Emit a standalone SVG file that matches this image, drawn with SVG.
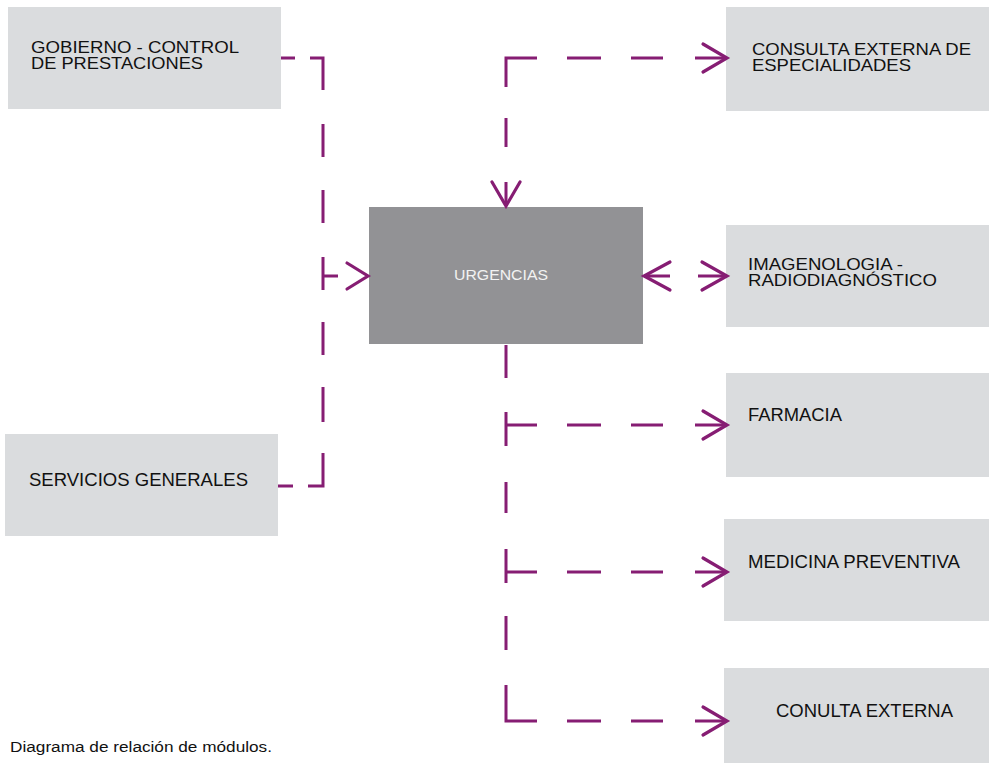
<svg xmlns="http://www.w3.org/2000/svg" width="989" height="763" viewBox="0 0 989 763">
<style>
.box{fill:#dadcde}
.core{fill:#929295}
.lbl{font-family:"Liberation Sans",Arial,sans-serif;font-size:18px;fill:#111}
.lbl2{font-family:"Liberation Sans",Arial,sans-serif;font-size:17px;fill:#111}
.core-lbl{font-family:"Liberation Sans",Arial,sans-serif;font-size:15.5px;fill:#f2f2f2}
.cap{font-family:"Liberation Sans",Arial,sans-serif;font-size:15.5px;fill:#111}
.ln{fill:none;stroke:#861d73;stroke-width:3;stroke-linecap:butt;stroke-linejoin:miter}
.hd{fill:none;stroke:#861d73;stroke-width:3.2;stroke-linecap:round;stroke-linejoin:miter}
</style>
<rect width="989" height="763" fill="#fff"/>

<g id="gobierno">
<rect class="box" x="8" y="7" width="273" height="102"/>
<text class="lbl2" x="31" y="53" textLength="208" lengthAdjust="spacingAndGlyphs">GOBIERNO - CONTROL</text>
<text class="lbl2" x="31" y="68.5" textLength="172" lengthAdjust="spacingAndGlyphs">DE PRESTACIONES</text>
</g>
<g id="servicios">
<rect class="box" x="5" y="434" width="273" height="102"/>
<text class="lbl" x="29" y="486" textLength="219" lengthAdjust="spacingAndGlyphs">SERVICIOS GENERALES</text>
</g>
<g id="urgencias">
<rect class="core" x="369" y="207" width="274" height="137"/>
<text class="core-lbl" x="454" y="280" textLength="94" lengthAdjust="spacingAndGlyphs">URGENCIAS</text>
</g>
<g id="consulta-especialidades">
<rect class="box" x="726" y="7" width="263" height="104"/>
<text class="lbl2" x="752" y="55" textLength="219" lengthAdjust="spacingAndGlyphs">CONSULTA EXTERNA DE</text>
<text class="lbl2" x="752" y="70.5" textLength="159" lengthAdjust="spacingAndGlyphs">ESPECIALIDADES</text>
</g>
<g id="imagenologia">
<rect class="box" x="726" y="225" width="263" height="102"/>
<text class="lbl2" x="748" y="270" textLength="155" lengthAdjust="spacingAndGlyphs">IMAGENOLOGIA -</text>
<text class="lbl2" x="748" y="286" textLength="189" lengthAdjust="spacingAndGlyphs">RADIODIAGNÓSTICO</text>
</g>
<g id="farmacia">
<rect class="box" x="726" y="373" width="263" height="104"/>
<text class="lbl" x="748" y="421" textLength="94" lengthAdjust="spacingAndGlyphs">FARMACIA</text>
</g>
<g id="medicina">
<rect class="box" x="724" y="519" width="265" height="102"/>
<text class="lbl" x="748" y="568" textLength="212" lengthAdjust="spacingAndGlyphs">MEDICINA PREVENTIVA</text>
</g>
<g id="conulta-externa">
<rect class="box" x="724" y="668" width="265" height="95"/>
<text class="lbl" x="776" y="717" textLength="177" lengthAdjust="spacingAndGlyphs">CONULTA EXTERNA</text>
</g>

<g id="connectors">
<!-- left: gobierno / servicios to urgencias -->
<path class="ln" d="M281 58H295 M310 58H323V90 M323 124V157 M323 190V223 M323 257V290 M323 276H338 M323 322V355 M323 387V422 M323 453V486H308 M293 486H278"/>
<path class="hd" d="M347 263L368 276L347 289"/>
<!-- top: urgencias to consulta especialidades -->
<path class="ln" d="M506 147V118 M506 87V58H537 M567 58H601 M631 58H663 M695 58H725 M506 182V205"/>
<path class="hd" d="M703 44L727 58L703 72"/>
<path class="hd" d="M492 182L506 206L520 182"/>
<!-- double arrow to imagenologia -->
<path class="ln" d="M644 276H670 M698 276H725"/>
<path class="hd" d="M670 262L644 276L670 290"/>
<path class="hd" d="M702 262L727 276L702 290"/>
<!-- bottom trunk -->
<path class="ln" d="M506 345V378 M506 412V446 M506 425H537 M567 425H601 M631 425H663 M695 425H725 M506 482V513 M506 549V583 M506 572H537 M567 572H601 M631 572H663 M695 572H725 M506 616V650 M506 685V721H537 M567 721H601 M631 721H663 M695 721H725"/>
<path class="hd" d="M703 411L727 425L703 439"/>
<path class="hd" d="M703 558L727 572L703 586"/>
<path class="hd" d="M703 707L727 721L703 735"/>
</g>

<text class="cap" x="10" y="751.5" textLength="262" lengthAdjust="spacingAndGlyphs">Diagrama de relación de módulos.</text>
</svg>
